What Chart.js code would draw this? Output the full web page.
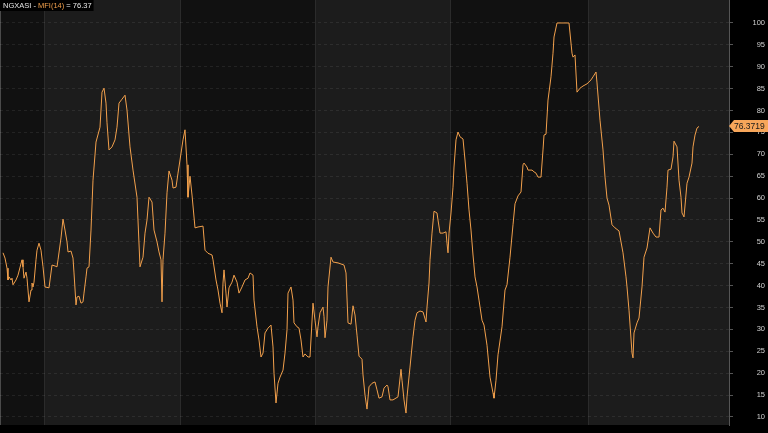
<!DOCTYPE html>
<html>
<head>
<meta charset="utf-8">
<style>
  html, body { margin: 0; padding: 0; background: #000; overflow: hidden; }
  #wrap { width: 768px; height: 433px; position: relative; }
  canvas { display: block; }
</style>
<script src="https://cdn.jsdelivr.net/npm/chart.js@4.4.0/dist/chart.umd.min.js"></script>
</head>
<body>
<div id="wrap"><canvas id="c" width="768" height="433"></canvas></div>
<script>
// ---- data ----
const symbol = 'NGXASI';
const indicatorName = 'MFI(14)';
const lastValue = 76.3719;

// trading-session index (x) of each traced point
const sessions = [
  0,1,2,2.5,3,4,4.5,5,6.5,7.5,
  9.5,10,10.5,11.5,12,12.5,13,14,14.5,15,
  15.5,16.5,17,18,19,20,21,23,24.5,26,
  27,27.5,29,30,31,32,32.5,34,35,35.5,
  36.5,37,38,39,40,40.5,41.5,42,43,44,
  45,46.5,48.5,49.5,50.5,51.5,52,53,54.5,56,
  57,58,59.5,61,62,63.5,65,67,68.5,70,
  71,72,73,74.5,75.5,77,78,79,79.5,80,
  81,82,83,84.5,85,86.5,87.5,88.5,90,91,
  92,92.5,93.5,94.5,96,97.5,100,101,102.5,104.5,
  105,106.5,107.5,108.5,109.5,110,110.5,111.5,112,113,
  114.5,115.5,117,118,119.5,121,122.5,123.5,125,125.5,
  127,128,129,130,131,132.5,134,135,135.5,136.5,
  137.5,138.5,140,141,142,142.5,144,145,145.5,147,
  148,149,150,151,152.5,153.5,155,156,157,157.5,
  158.5,160,160.5,161,162,162.5,164,165,167.5,170.5,
  171.5,172.5,174,175,176,177,178,179.5,180,181,
  182,183,184.5,186,187,188,189.5,190.5,192,192.5,
  193.5,195,197.5,199,199.5,200.5,201.5,202,203.5,205,
  206,207,208.5,210,211.5,212,213,213.5,214.5,215.5,
  217,217.5,218.5,220,221.5,222,222.5,223,224,225,
  225.5,226.5,227.5,228.5,230,231,232,233,234,235,
  236,237,238,239.5,240.5,242,243.5,245,245.5,246.5,
  247.5,249.5,251,252,253.5,255,256,257.5,259,260,
  260.5,262,262.5,264.5,265.5,266.5,267.5,269,270,270.5,
  271.5,272.5,274,275,275.5,277,279,281,283,284.5,
  285,286,287,288.5,290,292,294,295,296.5,297,
  298.5,300,301,302,303,304.5,306,308,310,311.5,
  312,313,314.5,315,315.5,317,318,319.5,320.5,322,
  323.5,325,326.5,328,329,330,331,332,332.5,334,
  335,335.5,337,338,339,339.5,340.5,342,343,344.5,
  345,346,347,348
];

// MFI(14) value at each session
const mfi = [
  47.5,46.3,44.0,41.3,42.0,41.3,41.7,40.2,41.3,42.4,
  45.9,44.3,41.7,43.1,41.7,39.0,36.3,39.0,40.6,39.7,
  40.8,45.9,48.1,49.7,48.1,44.3,39.7,39.5,44.7,44.5,
  44.3,45.9,50.9,55.2,52.7,50.0,47.7,47.9,46.3,42.9,
  35.6,37.4,37.6,36.0,36.3,38.3,42.0,44.0,44.3,52.7,
  64.1,72.8,76.2,84.2,85.1,81.7,77.2,71.0,71.7,73.3,
  76.2,81.7,82.6,83.5,80.1,71.7,66.4,60.2,44.3,46.5,
  52.0,55.0,60.2,59.1,52.7,50.0,47.7,45.9,36.3,45.9,
  52.0,61.2,66.2,64.1,62.3,62.5,65.7,68.7,73.3,75.6,
  67.6,60.2,65.0,60.7,53.2,53.4,53.6,48.1,47.4,47.0,
  45.9,41.3,39.0,36.0,33.8,40.6,43.6,38.3,35.1,39.5,
  40.8,42.4,40.8,38.3,39.7,41.3,41.7,42.9,42.4,36.7,
  30.6,27.6,23.7,24.6,29.2,30.3,31.0,26.0,20.0,13.2,
  17.7,19.1,20.7,24.6,29.9,38.3,39.7,36.7,31.5,30.6,
  30.3,27.6,23.7,24.4,23.7,23.7,36.0,32.1,28.3,30.6,
  33.8,35.1,32.9,28.1,32.1,39.7,46.5,45.4,45.2,44.7,
  42.9,31.5,31.2,35.4,33.3,28.7,23.9,23.2,19.6,15.0,
  11.8,16.9,17.7,18.0,16.2,14.3,14.6,16.6,17.3,16.9,
  13.9,13.9,14.6,20.9,18.4,13.9,10.9,14.6,21.4,28.3,
  32.1,33.8,34.2,34.0,31.7,35.1,40.6,45.9,52.0,57.0,
  56.6,55.0,52.0,52.0,52.3,49.7,47.5,52.0,56.6,62.5,
  67.1,73.3,75.1,74.0,73.5,68.7,63.4,57.3,52.7,47.0,
  42.0,39.7,36.7,32.1,31.0,26.4,19.1,15.5,14.3,18.4,
  24.2,30.6,39.0,40.2,46.5,53.9,58.7,60.5,61.4,67.6,
  68.0,67.1,66.4,66.4,66.0,65.7,64.8,64.8,71.0,74.4,
  74.6,82.4,87.7,93.1,96.8,100,100,100,100,93.1,
  92.2,92.7,84.2,85.1,85.6,86.1,87.0,87.7,88.8,86.3,
  77.8,71.0,64.8,60.0,58.4,53.9,53.2,52.5,47.5,42.0,
  39.7,34.4,24.6,23.5,29.2,31.5,32.6,39.7,46.5,48.6,
  53.2,52.0,51.1,51.1,57.3,57.7,56.8,62.5,66.4,66.6,
  69.4,73.0,71.7,64.1,60.2,56.6,55.7,63.4,64.8,68.0,
  71.7,74.4,76.0,76.37
];

// session index where each new quarter starts (shaded background bands)
const quarterStarts = [20.5, 88.5, 156, 223.5, 292.5];
const sessionRange = [-1.5, 363];

// right-axis tick labels
const yTicks = [10,15,20,25,30,35,40,45,50,55,60,65,70,75,80,85,90,95,100];
const yRange = [8.17, 105.25];

// ---- styling ----
const FONT = 'Arial, "Liberation Sans", sans-serif';
const ORANGE = '#f2a04c';

const bandPlugin = {
  id: 'bands',
  beforeDraw(chart) {
    const { ctx, chartArea: a, scales: { x } } = chart;
    ctx.save();
    ctx.fillStyle = '#000';
    ctx.fillRect(0, 0, chart.width, chart.height);
    const edges = [x.min, ...quarterStarts, x.max];
    for (let i = 0; i < edges.length - 1; i++) {
      const x0 = Math.round(x.getPixelForValue(edges[i]));
      const x1 = Math.round(x.getPixelForValue(edges[i + 1]));
      ctx.fillStyle = i % 2 === 0 ? '#111111' : '#1c1c1c';
      ctx.fillRect(x0, a.top, x1 - x0, a.bottom - a.top);
    }
    ctx.strokeStyle = '#2b2b2b';
    ctx.lineWidth = 1;
    quarterStarts.forEach(q => {
      const px = Math.round(x.getPixelForValue(q)) + 0.5;
      ctx.beginPath(); ctx.moveTo(px, a.top); ctx.lineTo(px, a.bottom); ctx.stroke();
    });
    ctx.strokeStyle = '#4a4a4a';
    ctx.beginPath(); ctx.moveTo(a.left + 0.5, a.top); ctx.lineTo(a.left + 0.5, a.bottom); ctx.stroke();
    ctx.restore();
  }
};

const overlayPlugin = {
  id: 'overlay',
  afterDraw(chart) {
    const { ctx, chartArea: a, scales: { y } } = chart;
    ctx.save();
    // title
    ctx.font = '7.5px ' + FONT;
    ctx.textBaseline = 'middle';
    const parts = [
      [symbol + ' - ', '#e6e6e6'],
      [indicatorName, ORANGE],
      [' = ' + lastValue.toFixed(2), '#e6e6e6']
    ];
    let w = 0; parts.forEach(p => w += ctx.measureText(p[0]).width);
    ctx.fillStyle = '#000';
    ctx.fillRect(a.left, a.top, w + 5, 11);
    let tx = a.left + 3;
    parts.forEach(p => { ctx.fillStyle = p[1]; ctx.fillText(p[0], tx, a.top + 6); tx += ctx.measureText(p[0]).width; });

    // last value marker on the axis
    const py = Math.round(y.getPixelForValue(lastValue));
    const x0 = a.right;
    ctx.fillStyle = '#f7a65a';
    ctx.beginPath();
    ctx.moveTo(x0, py);
    ctx.lineTo(x0 + 5, py - 6);
    ctx.lineTo(chart.width, py - 6);
    ctx.lineTo(chart.width, py + 6);
    ctx.lineTo(x0 + 5, py + 6);
    ctx.closePath();
    ctx.fill();
    ctx.fillStyle = '#1a1a1a';
    ctx.font = '8.5px ' + FONT;
    ctx.textAlign = 'left';
    ctx.fillText(lastValue.toFixed(4), x0 + 5, py + 0.5);
    ctx.restore();
  }
};

new Chart(document.getElementById('c'), {
  type: 'line',
  data: {
    datasets: [{
      data: sessions.map((s, i) => ({ x: s, y: mfi[i] })),
      borderColor: ORANGE,
      borderWidth: 1,
      pointRadius: 0,
      tension: 0,
      fill: false
    }]
  },
  options: {
    responsive: false,
    animation: false,
    devicePixelRatio: 1,
    layout: { padding: { left: 0, right: 3, top: 0, bottom: 8 } },
    plugins: { legend: { display: false }, tooltip: { enabled: false }, title: { display: false } },
    scales: {
      x: { type: 'linear', min: sessionRange[0], max: sessionRange[1], display: false },
      y: {
        position: 'right',
        min: yRange[0],
        max: yRange[1],
        afterBuildTicks(ax) { ax.ticks = yTicks.map(v => ({ value: v })); },
        afterFit(ax) { ax.width = 36; ax.paddingTop = 0; ax.paddingBottom = 0; },
        grid: { color: 'rgba(255,255,255,0.08)', lineWidth: 1, tickLength: 4, tickColor: '#555', drawTicks: true },
        border: { display: true, color: '#555', width: 1, dash: [3, 3] },
        ticks: { color: '#d0d0d0', font: { family: FONT, size: 7.5 }, crossAlign: 'far', padding: 2, callback: v => String(v) }
      }
    }
  },
  plugins: [bandPlugin, overlayPlugin]
});
</script>
</body>
</html>
